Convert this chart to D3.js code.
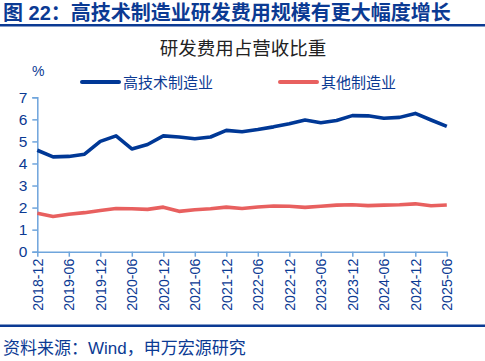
<!DOCTYPE html>
<html>
<head>
<meta charset="utf-8">
<script src="https://cdn.jsdelivr.net/npm/d3@7"></script>
<style>
  body { margin: 0; background: #fff; }
  text { font-family: "Liberation Sans", Arial, "Noto Sans CJK SC", sans-serif; }
</style>
</head>
<body>
<div id="chart"></div>
<script>
var quarters = ["2018-12","2019-03","2019-06","2019-09","2019-12","2020-03","2020-06","2020-09","2020-12",
                "2021-03","2021-06","2021-09","2021-12","2022-03","2022-06","2022-09","2022-12",
                "2023-03","2023-06","2023-09","2023-12","2024-03","2024-06","2024-09","2024-12",
                "2025-03","2025-06"];
var hiTech = [4.6,4.3,4.32,4.42,5.0,5.25,4.66,4.86,5.25,5.2,5.12,5.2,5.5,5.44,5.54,5.66,5.8,5.97,5.85,5.95,
              6.17,6.16,6.05,6.09,6.27,5.97,5.68];
var other = [1.74,1.6,1.7,1.77,1.87,1.96,1.95,1.92,2.02,1.83,1.9,1.95,2.02,1.96,2.03,2.07,2.06,2.01,2.06,2.11,
             2.13,2.09,2.11,2.13,2.17,2.08,2.12];
var series = [
  { name: "高技术制造业", values: hiTech, color: "#003896" },
  { name: "其他制造业", values: other, color: "#e8605f" }
];
var yTicks = [0,1,2,3,4,5,6,7];

var W = 485, H = 361;
var navy = "#0b3a93", axisBlue = "#6fa5dc";

var svg = d3.select("#chart").append("svg")
    .attr("width", W)
    .attr("height", H);

// title + rules
svg.append("text")
    .attr("x", 3).attr("y", 20)
    .attr("font-size", 20).attr("font-weight", "bold")
    .attr("fill", "#0b3a93")
    .text("图 22：高技术制造业研发费用规模有更大幅度增长");
svg.append("rect").attr("x", 0).attr("y", 24).attr("width", W).attr("height", 2.5).attr("fill", "#0b3a93");
svg.append("rect").attr("x", 0).attr("y", 324.5).attr("width", W).attr("height", 2.5).attr("fill", "#0b3a93");
svg.append("text")
    .attr("x", 3).attr("y", 354)
    .attr("font-size", 17).attr("fill", navy)
    .text("资料来源：Wind，申万宏源研究");

svg.append("text")
    .attr("x", 243).attr("y", 55)
    .attr("text-anchor", "middle")
    .attr("font-size", 18.5).attr("fill", "#222")
    .text("研发费用占营收比重");

var x = d3.scalePoint().domain(quarters).range([37.3, 446.8]);
var y = d3.scaleLinear().domain([0, 7]).range([251.7, 97.3]);

// y axis
var yAxis = svg.append("g").attr("transform", "translate(37.3,0)")
    .call(d3.axisLeft(y).tickValues(yTicks).tickSize(5).tickPadding(5).tickFormat(d3.format("d")));
yAxis.select(".domain").attr("stroke", axisBlue).attr("stroke-width", 1.5);
yAxis.selectAll(".tick line").attr("stroke", axisBlue).attr("stroke-width", 1.5);
yAxis.selectAll(".tick text").attr("fill", navy).attr("font-size", 15.5)
    .attr("font-family", "Liberation Sans, Arial, sans-serif");

// x axis
var xAxis = svg.append("g").attr("transform", "translate(0,251.7)")
    .call(d3.axisBottom(x)
        .tickValues(quarters.filter(function(d, i) { return i % 2 === 0; }))
        .tickSize(5).tickSizeOuter(0));
xAxis.select(".domain").attr("stroke", axisBlue).attr("stroke-width", 1.5);
xAxis.selectAll(".tick line").attr("stroke", axisBlue).attr("stroke-width", 1.5);
xAxis.selectAll(".tick text")
    .attr("fill", navy).attr("font-size", 14.2)
    .attr("font-family", "Liberation Sans, Arial, sans-serif")
    .attr("transform", "rotate(-90)")
    .attr("text-anchor", "end")
    .attr("x", -7).attr("y", 0).attr("dy", "0.35em");

svg.append("text")
    .attr("x", 32).attr("y", 76)
    .attr("font-size", 14).attr("fill", navy)
    .text("%");

// lines
var line = d3.line()
    .x(function(d, i) { return x(quarters[i]); })
    .y(function(d) { return y(d); });

svg.selectAll(".series")
    .data(series.slice().reverse())
    .enter().append("path")
    .attr("class", "series")
    .attr("d", function(d) { return line(d.values); })
    .attr("fill", "none")
    .attr("stroke", function(d) { return d.color; })
    .attr("stroke-width", 3.6)
    .attr("stroke-linejoin", "round");

// legend
var legendX = [82, 280];
var lg = svg.selectAll(".legend")
    .data(series)
    .enter().append("g")
    .attr("class", "legend")
    .attr("transform", function(d, i) { return "translate(" + legendX[i] + ",82)"; });
lg.append("line")
    .attr("x1", 0).attr("x2", 37)
    .attr("stroke", function(d) { return d.color; })
    .attr("stroke-width", 4)
    .attr("stroke-linecap", "round");
lg.append("text")
    .attr("x", 41).attr("y", 5.5)
    .attr("font-size", 15).attr("fill", navy)
    .text(function(d) { return d.name; });
</script>
</body>
</html>
